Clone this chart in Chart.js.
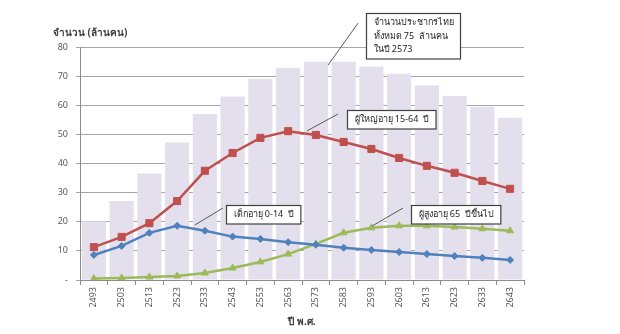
<!DOCTYPE html>
<html>
<head>
<meta charset="utf-8">
<script src="https://cdn.jsdelivr.net/npm/chart.js@4"></script>
<style>
    body { margin: 0; background: #fff; }
    #box { width: 620px; height: 334px; }
</style>
</head>
<body>
<div id="box"><canvas id="pop"></canvas></div>
<script>
const years = ["2493", "2503", "2513", "2523", "2533", "2543", "2553", "2563",
    "2573", "2583", "2593", "2603", "2613", "2623", "2633", "2643"];

// ล้านคน
const total = [20.2, 27.1, 36.6, 47.2, 57.0, 63.0, 69.0, 72.9, 74.9, 74.9, 73.2, 70.8, 66.8, 63.2, 59.5, 55.7];
const adults = [11.3, 14.8, 19.5, 27.1, 37.5, 43.6, 48.8, 51.1, 49.8, 47.4, 45.0, 41.9, 39.2, 36.8, 34.0, 31.3];
const children = [8.6, 11.7, 16.2, 18.6, 16.9, 14.9, 14.1, 13.0, 12.1, 11.1, 10.3, 9.6, 8.9, 8.2, 7.6, 6.9];
const elderly = [0.5, 0.7, 1.0, 1.4, 2.4, 4.1, 6.2, 8.9, 12.4, 16.2, 17.9, 18.6, 18.6, 18.2, 17.6, 16.9];

const yTicks = [0, 10, 20, 30, 40, 50, 60, 70, 80];

// กล่องข้อความพร้อมเส้นชี้ (ตำแหน่งเป็นค่าบนแกน: ลำดับปี, ล้านคน)
const notes = [
    { lines: ["จำนวนประชากรไทย", "ทั้งหมด 75  ล้านคน", "ในปี 2573"], at: [9.81, 91.7], from: [9.52, 88.2], to: [8.44, 73.8] },
    { lines: ["ผู้ใหญ่อายุ 15-64  ปี"], at: [9.12, 58.4], from: [8.80, 57.0], to: [7.68, 51.2] },
    { lines: ["เด็กอายุ 0-14  ปี"], at: [4.76, 25.8], from: [4.65, 24.7], to: [3.64, 18.9] },
    { lines: ["ผู้สูงอายุ 65  ปีขึ้นไป"], at: [11.43, 25.8], from: [11.14, 24.7], to: [10.02, 18.5] },
];

const FONT = "'Noto Sans', 'DejaVu Sans', sans-serif";
const ink = "#404040";

const calloutPlugin = {
    id: "callouts",
    afterDatasetsDraw(chart) {
        const { ctx, scales: { x, y }, chartArea } = chart;
        ctx.save();
        // y axis caption
        ctx.font = "bold 10px " + FONT;
        ctx.fillStyle = ink;
        ctx.textBaseline = "middle";
        ctx.textAlign = "left";
        ctx.fillText("จำนวน (ล้านคน)", chartArea.left - 27, chartArea.top - 14);

        ctx.font = "9px " + FONT;
        notes.forEach(n => {
            const px = v => x.getPixelForValue(v[0]);
            const py = v => y.getPixelForValue(v[1]);
            ctx.strokeStyle = "#595959";
            ctx.lineWidth = 1;
            ctx.beginPath();
            ctx.moveTo(px(n.from), py(n.from));
            ctx.lineTo(px(n.to), py(n.to));
            ctx.stroke();

            const lh = 13.5;
            const w = Math.max(...n.lines.map(t => ctx.measureText(t).width)) + 14;
            const h = n.lines.length * lh + 5;
            const bx = Math.round(px(n.at)) + 0.5;
            const by = Math.round(py(n.at)) + 0.5;
            ctx.fillStyle = "#fff";
            ctx.fillRect(bx, by, w, h);
            ctx.strokeStyle = "#404040";
            ctx.lineWidth = 1.2;
            ctx.strokeRect(bx, by, w, h);
            ctx.fillStyle = "#262626";
            n.lines.forEach((t, i) => ctx.fillText(t, bx + 7, by + 2.5 + lh * i + lh / 2));
        });
        ctx.restore();
    }
};

function lineSet(label, data, color, style, radius) {
    return {
        type: "line",
        label,
        data,
        borderColor: color,
        backgroundColor: color,
        borderWidth: 2.5,
        pointStyle: style,
        pointRadius: radius,
        pointBorderWidth: 1,
        tension: 0,
        order: 1,
    };
}

new Chart(document.getElementById("pop"), {
    type: "bar",
    data: {
        labels: years,
        datasets: [
            lineSet("ผู้ใหญ่อายุ 15-64 ปี", adults, "#C0504D", "rect", 5),
            lineSet("เด็กอายุ 0-14 ปี", children, "#4F81BD", "rectRot", 3.5),
            lineSet("ผู้สูงอายุ 65 ปีขึ้นไป", elderly, "#9BBB59", "triangle", 4),
            {
                label: "ประชากรทั้งหมด",
                data: total,
                backgroundColor: "#E4DFEC",
                barPercentage: 0.87,
                categoryPercentage: 1,
                order: 2,
            },
        ],
    },
    options: {
        responsive: true,
        maintainAspectRatio: false,
        animation: false,
        layout: { padding: { top: 47, right: 96, left: 0, bottom: 0 } },
        plugins: {
            legend: { display: false },
            tooltip: { enabled: false },
        },
        scales: {
            x: {
                afterFit(s) { s.height = 54; },
                grid: { display: true, drawOnChartArea: false, tickLength: 5, color: "#8C8C8C" },
                border: { color: "#8C8C8C" },
                ticks: {
                    color: "#595959",
                    font: { size: 9, family: FONT },
                    minRotation: 90,
                    maxRotation: 90,
                    padding: 2,
                },
                title: {
                    display: true,
                    text: "ปี พ.ศ.",
                    color: ink,
                    font: { size: 10, weight: "bold", family: FONT },
                    padding: { top: 0, bottom: 6 },
                },
            },
            y: {
                min: 0,
                max: 80,
                afterFit(s) { s.width = 80; },
                afterBuildTicks(s) { s.ticks = yTicks.map(v => ({ value: v })); },
                grid: { color: "#A6A6A6", tickLength: 4 },
                border: { color: "#8C8C8C" },
                ticks: {
                    color: "#595959",
                    font: { size: 9, family: FONT },
                    padding: 8,
                    callback: v => (v === 0 ? "-" : v),
                },
            },
        },
    },
    plugins: [calloutPlugin],
});
</script>
</body>
</html>
